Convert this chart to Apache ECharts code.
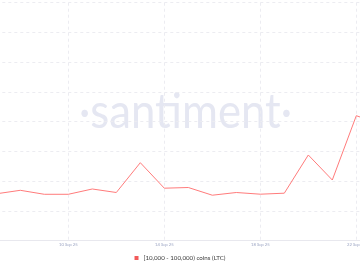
<!DOCTYPE html>
<html>
<head>
<meta charset="utf-8">
<script src="https://cdn.jsdelivr.net/npm/echarts@6/dist/echarts.min.js"></script>
<style>
html,body{margin:0;padding:0;background:#fff;}
#c{width:360px;height:270px;}
</style>
</head>
<body>
<div id="c"></div>
<script>
var categories = ['7 Sep 25','8 Sep 25','9 Sep 25','10 Sep 25','11 Sep 25','12 Sep 25','13 Sep 25','14 Sep 25','15 Sep 25','16 Sep 25','17 Sep 25','18 Sep 25','19 Sep 25','20 Sep 25','21 Sep 25','22 Sep 25','23 Sep 25'];
var seriesName = '[10,000 - 100,000) coins (LTC)';
var values = [1.576,1.694,1.560,1.560,1.738,1.620,2.622,1.765,1.788,1.529,1.620,1.563,1.597,2.881,2.040,4.202,3.920];
var yMin = 0, yMax = 8, yInterval = 1;

var chart = echarts.init(document.getElementById('c'), null, {renderer:'canvas'});
function showIdx(i){ return i % 4 === 3; }
chart.setOption({
  animation:false,
  backgroundColor:'#ffffff',
  graphic:[{
    type:'text', left:79, top:89, z:0, silent:true,
    style:{text:'\u00b7santiment\u00b7', font:'400 48px Lato', fill:'#e5e7f2'},
    scaleX:0.91
  }],
  grid:{left:-3.7,right:-20.3,top:2.7,bottom:29.3,outerBoundsMode:'none',containLabel:false},
  legend:{
    bottom:4, left:'center', itemWidth:4, itemHeight:4, itemGap:4,
    icon:'rect',
    textStyle:{fontSize:6.2,color:'#3a3a3a',fontFamily:'Lato'},
    data:[seriesName]
  },
  xAxis:{
    type:'category', boundaryGap:false, data:categories,
    axisLine:{show:true,lineStyle:{color:'#e8e8ee',width:1}},
    axisTick:{show:false},
    axisLabel:{interval:function(i){return showIdx(i);}, fontSize:4.2, color:'#9aa3c2', margin:2, fontFamily:'Lato'},
    splitLine:{show:true, interval:function(i){return showIdx(i);}, lineStyle:{color:'#ececf1',type:[3,3],width:1}}
  },
  yAxis:{
    type:'value', min:yMin, max:yMax, interval:yInterval,
    axisLabel:{show:false}, axisLine:{show:false}, axisTick:{show:false},
    splitLine:{show:true,lineStyle:{color:'#ececf1',type:[3,3],width:1}}
  },
  series:[{
    name:seriesName, type:'line', data:values, symbol:'none',
    itemStyle:{color:'#f25a5a'},
    lineStyle:{color:'#ff7b7b',width:1}, z:3
  }]
});
</script>
</body>
</html>
